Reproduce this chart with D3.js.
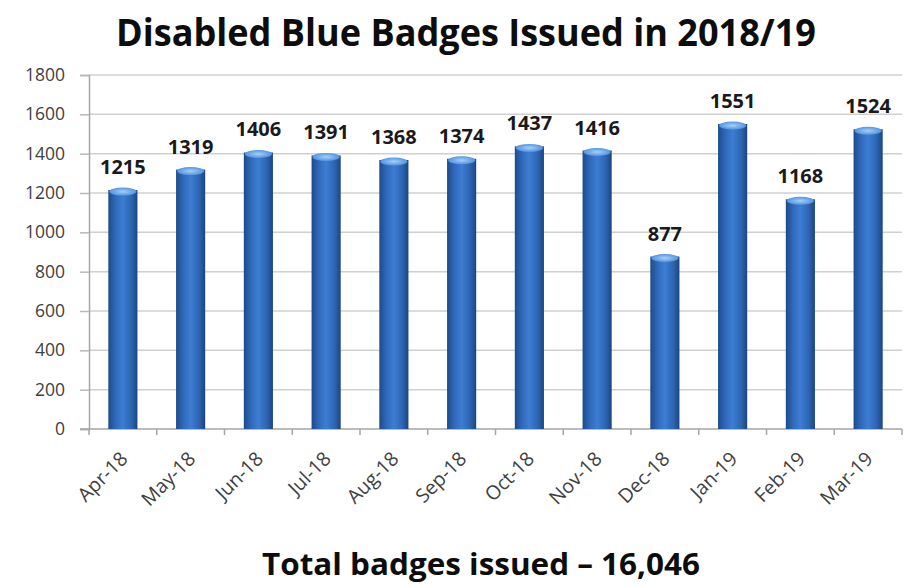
<!DOCTYPE html>
<html>
<head>
<meta charset="utf-8">
<script src="https://cdn.jsdelivr.net/npm/d3@7/dist/d3.min.js"></script>
<style>
  html, body { margin: 0; padding: 0; background: #fff; }
  svg { display: block; }
</style>
</head>
<body>
<svg id="chart" width="912" height="587"></svg>
<script>
// Monthly blue badge issues, April 2018 – March 2019
const months = ["Apr-18", "May-18", "Jun-18", "Jul-18", "Aug-18", "Sep-18",
                "Oct-18", "Nov-18", "Dec-18", "Jan-19", "Feb-19", "Mar-19"];
const badges = [1215, 1319, 1406, 1391, 1368, 1374, 1437, 1416, 877, 1551, 1168, 1524];
const yTicks = [0, 200, 400, 600, 800, 1000, 1200, 1400, 1600, 1800];
const titleText = "Disabled Blue Badges Issued in 2018/19";
const totalText = "Total badges issued \u2013 16,046";

const svg = d3.select("#chart");
const margin = { left: 89, right: 10, top: 75, bottom: 158 };
const W = 912, H = 587;

const x = d3.scaleBand()
  .domain(months)
  .range([margin.left, W - margin.right])
  .paddingInner(0.57)
  .paddingOuter(0.285);

const y = d3.scaleLinear()
  .domain([0, 1800])
  .range([H - margin.bottom, margin.top]);

// Bar shading: darker edges, brighter centre
const defs = svg.append("defs");
const grad = defs.append("linearGradient")
  .attr("id", "barGrad").attr("x1", "0").attr("x2", "1").attr("y1", "0").attr("y2", "0");
grad.append("stop").attr("offset", "0%").attr("stop-color", "#1d4b8a");
grad.append("stop").attr("offset", "25%").attr("stop-color", "#3069ba");
grad.append("stop").attr("offset", "50%").attr("stop-color", "#3d7dd4");
grad.append("stop").attr("offset", "80%").attr("stop-color", "#2c64b0");
grad.append("stop").attr("offset", "100%").attr("stop-color", "#1c4580");

const capGrad = defs.append("radialGradient").attr("id", "capGrad");
capGrad.append("stop").attr("offset", "0%").attr("stop-color", "#a6d0f7");
capGrad.append("stop").attr("offset", "100%").attr("stop-color", "#5294e0");

// Horizontal gridlines (extend left through the tick marks)
svg.append("g")
  .selectAll("line")
  .data(yTicks.filter(d => d > 0))
  .join("line")
  .attr("x1", margin.left).attr("x2", W - margin.right)
  .attr("y1", d => y(d)).attr("y2", d => y(d))
  .attr("stroke", "#d0d0d0").attr("stroke-width", 1.5);

// Y axis
const yAxis = svg.append("g")
  .attr("transform", `translate(${margin.left},0)`)
  .call(d3.axisLeft(y).tickValues(yTicks).tickFormat(d3.format("d")).tickSize(9).tickPadding(15));
yAxis.select(".domain").attr("stroke", "#a6a6a6").attr("stroke-width", 1.5);
yAxis.selectAll(".tick line").attr("stroke", "#b8b8b8").attr("stroke-width", 1.5);
yAxis.selectAll("text")
  .attr("font-family", "'Open Sans', sans-serif")
  .attr("font-size", 17.5).attr("fill", "#404040");

// X axis with ticks at category boundaries
const xAxisG = svg.append("g")
  .attr("transform", `translate(0,${y(0)})`);
xAxisG.append("line")
  .attr("x1", margin.left - 9).attr("x2", W - margin.right)
  .attr("stroke", "#a6a6a6").attr("stroke-width", 1.5);
const step = x.step();
const bounds = months.map(m => x(m) - x.paddingInner() * step / 2).concat([W - margin.right]);
xAxisG.selectAll("line.tk")
  .data(bounds)
  .join("line").attr("class", "tk")
  .attr("x1", d => d).attr("x2", d => d)
  .attr("y1", 0).attr("y2", 6)
  .attr("stroke", "#a6a6a6").attr("stroke-width", 1.5);

xAxisG.selectAll("text.lbl")
  .data(months)
  .join("text").attr("class", "lbl")
  .attr("transform", d => `translate(${x(d) + x.bandwidth() / 2 + 6},${31}) rotate(-45)`)
  .attr("text-anchor", "end")
  .attr("font-family", "'Open Sans', sans-serif")
  .attr("font-size", 19.5).attr("fill", "#404040")
  .text(d => d);

// Bars
const bars = svg.append("g");
const data = months.map((m, i) => ({ m, v: badges[i] }));
bars.selectAll("rect")
  .data(data)
  .join("rect")
  .attr("x", d => x(d.m))
  .attr("y", d => y(d.v))
  .attr("width", x.bandwidth())
  .attr("height", d => y(0) - y(d.v))
  .attr("fill", "url(#barGrad)");

// Lighter rounded cap at the top of each bar
bars.selectAll("ellipse")
  .data(data)
  .join("ellipse")
  .attr("cx", d => x(d.m) + x.bandwidth() / 2)
  .attr("cy", d => y(d.v) + 1.5)
  .attr("rx", x.bandwidth() / 2 - 1)
  .attr("ry", 4)
  .attr("fill", "url(#capGrad)");

// Value labels
svg.append("g")
  .selectAll("text")
  .data(data)
  .join("text")
  .attr("x", d => x(d.m) + x.bandwidth() / 2)
  .attr("y", d => y(d.v) - 16)
  .attr("text-anchor", "middle")
  .attr("font-family", "'Open Sans', sans-serif")
  .attr("font-weight", "bold")
  .attr("font-size", 20)
  .attr("fill", "#1a1a1a")
  .text(d => d.v);

// Title
svg.append("text")
  .attr("x", 466).attr("y", 46)
  .attr("text-anchor", "middle")
  .attr("font-family", "'Open Sans', sans-serif")
  .attr("font-weight", "bold")
  .attr("font-size", 38)
  .attr("textLength", 700)
  .attr("lengthAdjust", "spacingAndGlyphs")
  .attr("fill", "#0d0d0d")
  .text(titleText);

// Total footer
svg.append("text")
  .attr("x", 481).attr("y", 575)
  .attr("text-anchor", "middle")
  .attr("font-family", "'Open Sans', sans-serif")
  .attr("font-weight", "bold")
  .attr("font-size", 30)
  .attr("textLength", 438)
  .attr("lengthAdjust", "spacingAndGlyphs")
  .attr("fill", "#0d0d0d")
  .text(totalText);
</script>
</body>
</html>
